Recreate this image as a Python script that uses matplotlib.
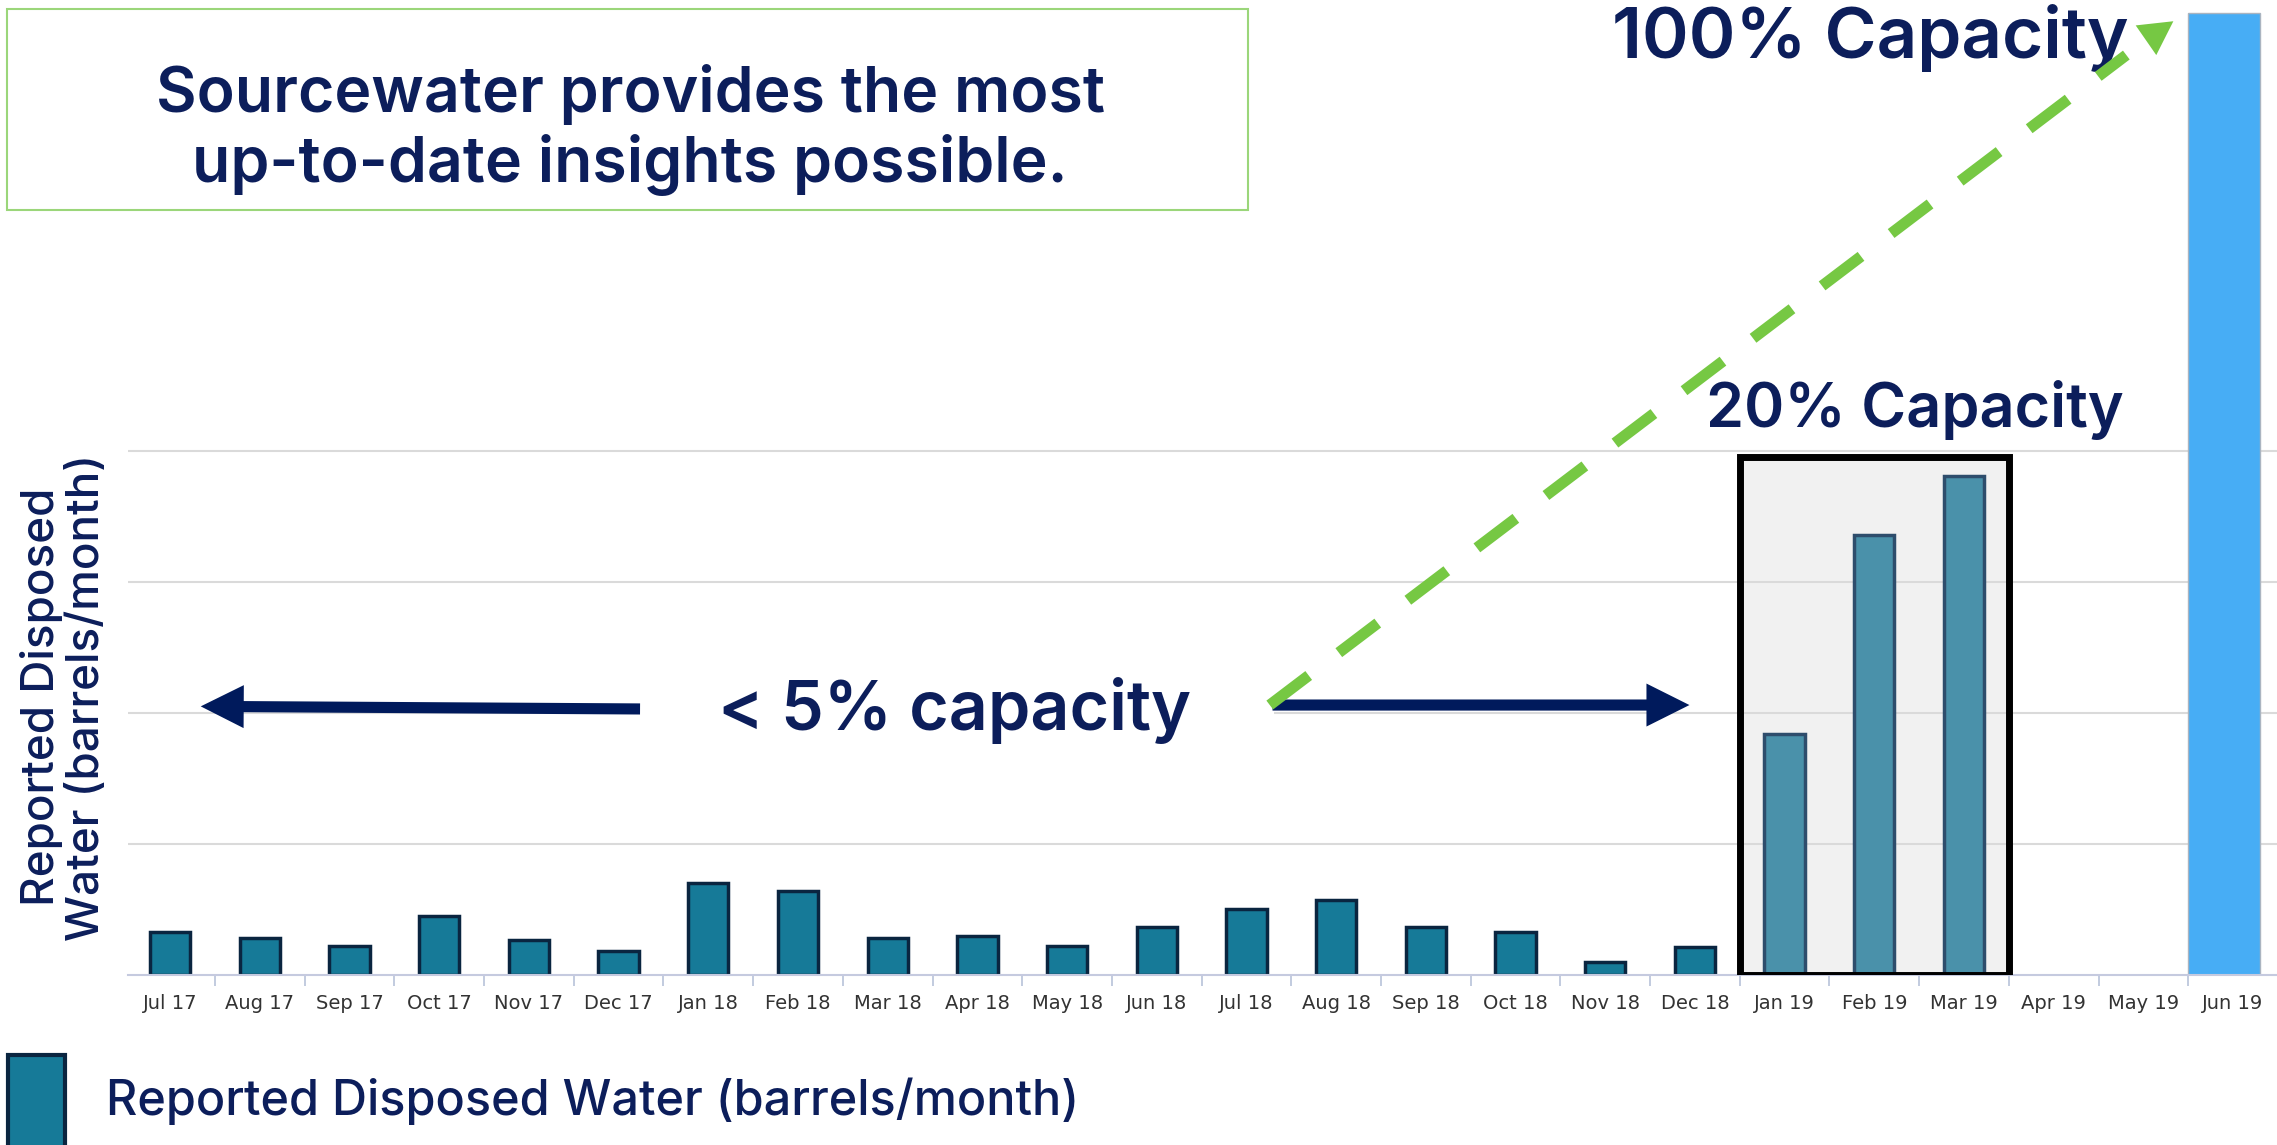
import matplotlib.pyplot as plt
from matplotlib.patches import Rectangle, FancyArrowPatch

plt.rcParams['font.family'] = ['Inter', 'DejaVu Sans']

# months shown on the x axis and reported disposed water (relative units, one gridline = 1)
months = ['Jul 17', 'Aug 17', 'Sep 17', 'Oct 17', 'Nov 17', 'Dec 17',
          'Jan 18', 'Feb 18', 'Mar 18', 'Apr 18', 'May 18', 'Jun 18',
          'Jul 18', 'Aug 18', 'Sep 18', 'Oct 18', 'Nov 18', 'Dec 18',
          'Jan 19', 'Feb 19', 'Mar 19', 'Apr 19', 'May 19', 'Jun 19']
disposed = [0.33, 0.285, 0.22, 0.45, 0.27, 0.18,
            0.70, 0.64, 0.285, 0.30, 0.22, 0.37,
            0.50, 0.57, 0.37, 0.33, 0.10, 0.21,
            1.84, 3.36, 3.81, 0, 0, 7.34]
highlight = ['Jan 19', 'Feb 19', 'Mar 19']
latest = 'Jun 19'

navy = '#0c1e5b'
green = '#76c843'
tw = 'semibold'

fig = plt.figure(figsize=(22.77, 11.45), dpi=100)
ax = fig.add_axes([128 / 2277, 170 / 1145, 2149 / 2277, 975 / 1145])

x = list(range(len(months)))
reg_x, reg_h, reg_fc, reg_ec = [], [], [], []
for i, m in enumerate(months):
    if m == latest or disposed[i] == 0:
        continue
    reg_x.append(i)
    reg_h.append(disposed[i])
    if m in highlight:
        reg_fc.append('#4a91aa')
        reg_ec.append('#2e4d6c')
    else:
        reg_fc.append('#167a98')
        reg_ec.append('#0a2540')

ax.bar(reg_x, reg_h, width=0.45, color=reg_fc, edgecolor=reg_ec, linewidth=2.5, zorder=2)
li = months.index(latest)
ax.bar(li - 0.5, disposed[li], width=0.8, align='edge', color='#47adf5',
       edgecolor='#aab4c0', linewidth=1, zorder=2)

# highlight box around the 2019 bars
h0 = months.index(highlight[0])
ax.add_patch(Rectangle((h0 - 0.5, 0), len(highlight), 3.95, facecolor='#f1f1f1',
                       edgecolor='none', zorder=0.3))
ax.add_patch(Rectangle((h0 - 0.5, 0), len(highlight), 3.95, facecolor='none',
                       edgecolor='black', linewidth=5, zorder=3))

ax.set_xlim(-0.47, 23.49)
ax.set_ylim(0, 7.44)
ax.set_yticks([1, 2, 3, 4])
ax.set_yticklabels([])
ax.tick_params(axis='y', length=0)
ax.grid(axis='y', color='#dadada', linewidth=1.5)
ax.set_axisbelow(True)
for s in ['left', 'right', 'top']:
    ax.spines[s].set_visible(False)
ax.spines['bottom'].set_color('#c5cadf')
ax.spines['bottom'].set_linewidth(1.5)

ax.set_xticks(x)
ax.set_xticklabels(months, fontsize=14, color='#333333',
                   family=['Liberation Sans Narrow', 'DejaVu Sans'])
ax.set_xticks([i + 0.5 for i in x[:-1]], minor=True)
ax.tick_params(axis='x', which='major', length=0, pad=14)
ax.tick_params(axis='x', which='minor', length=8, width=1.2, color='#b8c2d9')

# annotations
ax.text(8.74, 2.02, '< 5% capacity', fontsize=49, color=navy, ha='center', va='center',
        fontweight=tw, zorder=1.5,
        bbox=dict(facecolor='white', edgecolor='none', pad=60))
ax.text(19.45, 4.31, '20% Capacity', fontsize=44, color=navy, ha='center', va='center',
        fontweight=tw, zorder=4)
ax.text(18.96, 7.15, '100% Capacity', fontsize=51, color=navy, ha='center', va='center',
        fontweight=tw, zorder=4)

for start, end in [((5.27, 2.03), (0.31, 2.05)), ((12.26, 2.06), (16.97, 2.06))]:
    ax.add_patch(FancyArrowPatch(start, end, arrowstyle='-|>,head_length=18,head_width=9',
                                 mutation_scale=1, color='#001a5c', linewidth=8,
                                 joinstyle='miter', capstyle='butt', zorder=4))

ax.plot([12.26, 21.81], [2.06, 7.02], color=green, linewidth=8, dashes=(4.4, 3.4),
        solid_capstyle='butt', dash_capstyle='butt', zorder=5)
ax.add_patch(FancyArrowPatch((21.96, 7.10), (22.36, 7.29), arrowstyle='-|>,head_length=24,head_width=13',
                             mutation_scale=1, color=green, linewidth=0, zorder=5))

# title box
fig.patches.append(Rectangle((7 / 2277, 1 - 210 / 1145), 1241 / 2277, 201 / 1145,
                             transform=fig.transFigure, facecolor='white',
                             edgecolor='#9bd67a', linewidth=1.5))
fig.text(0.2767, 0.8865, 'Sourcewater provides the most\nup-to-date insights possible.',
         fontsize=45, color=navy, ha='center', va='center', fontweight=tw)

# y label
fig.text(0.028, 0.391, 'Reported Disposed\nWater (barrels/month)', rotation=90,
         fontsize=33, color=navy, ha='center', va='center', multialignment='center',
         linespacing=1.1, fontweight='medium')

# legend
fig.patches.append(Rectangle((8 / 2277, -0.02), 57 / 2277, 0.0986, transform=fig.transFigure,
                             facecolor='#167a98', edgecolor='#0a2540', linewidth=3))
fig.text(106 / 2277, 1 - 1101 / 1145, 'Reported Disposed Water (barrels/month)',
         fontsize=35, color=navy, ha='left', va='center', fontweight='medium')

fig.savefig('out.png', dpi=100)
